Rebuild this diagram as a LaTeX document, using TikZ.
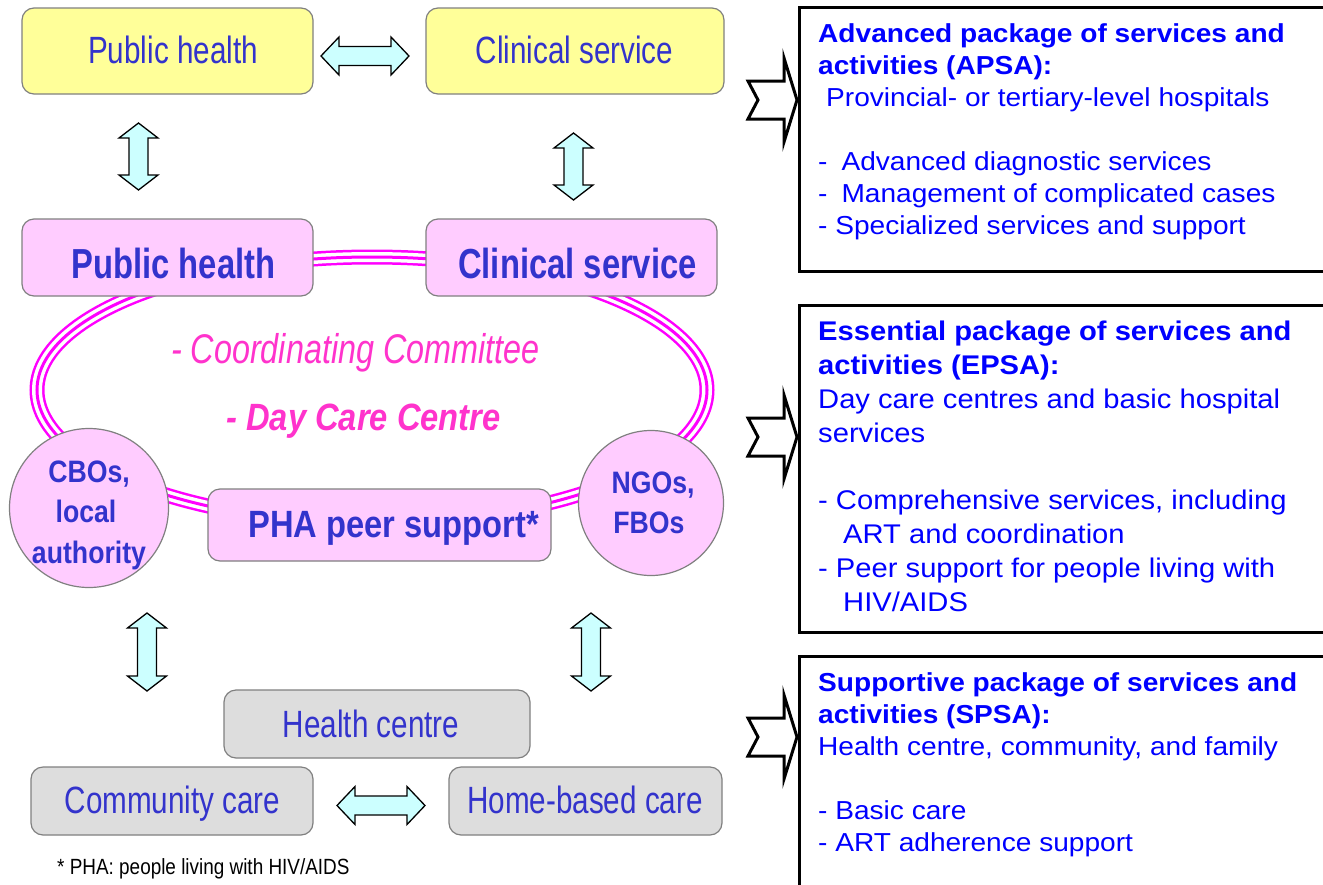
\documentclass[tikz,border=0pt]{standalone}
\usepackage{fontspec}
\setmainfont{Liberation Sans}
\newfontfamily\lnarrow[FakeStretch=0.78]{Liberation Sans}
\newfontfamily\lmid[FakeStretch=0.86]{Liberation Sans}
\newfontfamily\rfont[FakeStretch=1.08]{Liberation Sans}
\definecolor{txtblue}{HTML}{3333CC}
\definecolor{rblue}{HTML}{0000FF}
\definecolor{ylw}{HTML}{FFFF99}
\definecolor{pnk}{HTML}{FFCCFF}
\definecolor{gry}{HTML}{DDDDDD}
\definecolor{cyn}{HTML}{CCFFFF}
\definecolor{mag}{HTML}{FF00FF}
\definecolor{itmag}{HTML}{FF33CC}
\definecolor{bord}{HTML}{808080}
\tikzset{
  lbox/.style={draw=bord, line width=1.2pt, rounded corners=12pt, inner sep=0pt},
  ybox/.style={lbox, fill=ylw},
  pbox/.style={lbox, fill=pnk},
  gbox/.style={lbox, fill=gry},
  pcirc/.style={draw=bord, line width=1.2pt, fill=pnk, circle, inner sep=0pt},
  ring/.style={draw=mag, line width=15pt,
     postaction={draw=white, line width=10pt},
     postaction={draw=mag, line width=3pt}},
  regtxt/.style={anchor=base, inner sep=0pt, text=txtblue, font=\lnarrow\fontsize{38}{40}\selectfont},
  boldtxt/.style={anchor=base, inner sep=0pt, text=txtblue, font=\lnarrow\bfseries\fontsize{42}{44}\selectfont},
  circtxt/.style={anchor=base, inner sep=0pt, text=txtblue, font=\lmid\bfseries\fontsize{31}{33}\selectfont},
  rtxt/.style={anchor=base west, inner sep=0pt, text=rblue, font=\rfont\fontsize{26}{30}\selectfont},
  rtxtb/.style={anchor=base west, inner sep=0pt, text=rblue, font=\rfont\fontsize{27}{30}\selectfont},
  rbox/.style={draw=black, line width=2.5pt, inner sep=0pt, anchor=north west},
  cyarrow/.style={fill=cyn, draw=black, line width=1.3pt, line join=miter},
  pics/vdar/.style={code={
    \draw[cyarrow] (0,-#1) -- (19.5,{-#1+15}) -- (9.5,{-#1+15}) -- (9.5,{#1-15}) -- (19.5,{#1-15})
      -- (0,#1) -- (-19.5,{#1-15}) -- (-9.5,{#1-15}) -- (-9.5,{-#1+15}) -- (-19.5,{-#1+15}) -- cycle;}},
  pics/hdar/.style={code={
    \draw[cyarrow] (-44,0) -- (-26,-19) -- (-26,-9.5) -- (26,-9.5) -- (26,-19) -- (44,0)
      -- (26,19) -- (26,9.5) -- (-26,9.5) -- (-26,19) -- cycle;}},
  pics/chev/.style={code={
    \draw[line width=3pt, fill=white, line join=miter, miter limit=30]
      (-52,-19) -- (-16,-19) -- (-16,-42) -- (-3,0) -- (-16,42) -- (-16,19) -- (-52,19) -- (-42,0) -- cycle;}}
}
\begin{document}
\begin{tikzpicture}[x=1pt,y=-1pt]
\useasboundingbox (0,0) rectangle (1323,884);
\clip (0,0) rectangle (1323,884);
\fill[white] (0,0) rectangle (1323,884);

% ring
\path[ring] (372,390) ellipse [x radius=335pt, y radius=133pt];

% top yellow boxes
\node[ybox, minimum width=291pt, minimum height=86pt] (ph1) at (167.5,51) {};
\node[ybox, minimum width=298pt, minimum height=86pt] (cs1) at (575,51) {};
\node[regtxt] (ph1t) at (173,63) {Public health};
\node[regtxt] (cs1t) at (574.5,63) {Clinical service};

% pink boxes
\node[pbox, minimum width=291pt, minimum height=77pt] (ph2) at (167.5,257.5) {};
\node[pbox, minimum width=291pt, minimum height=77pt] (cs2) at (571.5,257.5) {};
\node[boldtxt] (ph2t) at (173.5,278) {Public health};
\node[boldtxt] (cs2t) at (577.5,278) {Clinical service};

% committee texts
\node[anchor=base, inner sep=0pt, text=itmag, font=\lnarrow\itshape\fontsize{41.5}{43}\selectfont] (coord) at (355.5,363) {- Coordinating Committee};
\node[anchor=base, inner sep=0pt, text=itmag, font=\lmid\bfseries\itshape\fontsize{38}{40}\selectfont] (dcc) at (363.5,430) {- Day Care Centre};

% circles and PHA box
\node[pcirc, minimum size=159pt] (cbo) at (89,508) {};
\node[pcirc, minimum size=145pt] (ngo) at (651,503) {};
\node[pbox, minimum width=343pt, minimum height=72pt] (pha) at (379.5,525) {};
\node[anchor=base, inner sep=0pt, text=txtblue, font=\lmid\bfseries\fontsize{38}{40}\selectfont] (phat) at (393.5,537) {PHA peer support*};
\node[circtxt] (cbo1) at (89,482) {CBOs,};
\node[circtxt] (cbo2) at (86,522) {local};
\node[circtxt] (cbo3) at (89,563) {authority};
\node[circtxt] (ngo1) at (653,493) {NGOs,};
\node[circtxt] (ngo2) at (649,533) {FBOs};

% bottom grey boxes
\node[gbox, minimum width=306pt, minimum height=68pt] (hc) at (377,724) {};
\node[gbox, minimum width=282pt, minimum height=68pt] (cc) at (172,801) {};
\node[gbox, minimum width=273pt, minimum height=68pt] (hb) at (585.5,801) {};
\node[regtxt] (hct) at (371,737) {Health centre};
\node[regtxt] (cct) at (172.5,813) {Community care};
\node[regtxt] (hbt) at (585,813) {Home-based care};

% footnote
\node[anchor=base west, inner sep=0pt, text=black, font=\lmid\fontsize{22}{24}\selectfont] (foot) at (57,874) {* PHA: people living with HIV/AIDS};

% cyan double arrows
\pic at (365,56) {hdar};
\pic at (138.5,156.5) {vdar=33.5};
\pic at (573.5,166.5) {vdar=33.5};
\pic at (147,652) {vdar=39};
\pic at (591,652) {vdar=39};
\pic at (381,805.5) {hdar};

% right boxes
\node[rbox, minimum width=600pt, minimum height=264pt] (apsa) at (798,6) {};
\node[rbox, minimum width=600pt, minimum height=327pt] (epsa) at (798,304) {};
\node[rbox, minimum width=600pt, minimum height=300pt] (spsa) at (798,655) {};

% chevrons
\pic at (800,100) {chev};
\pic at (800,437) {chev};
\pic at (800,737) {chev};

% APSA text
\node[rtxt, font=\rfont\bfseries\fontsize{26}{30}\selectfont] (a1) at (818,42) {Advanced package of services and};
\node[rtxt, font=\rfont\bfseries\fontsize{26}{30}\selectfont] (a2) at (818,74) {activities (APSA):};
\node[rtxt] (a3) at (826,106) {Provincial- or tertiary-level hospitals};
\node[rtxt] (a4) at (818,170) {-\hspace{14pt}Advanced diagnostic services};
\node[rtxt] (a5) at (818,202) {-\hspace{14pt}Management of complicated cases};
\node[rtxt] (a6) at (818,234) {- Specialized services and support};

% EPSA text
\node[rtxtb, font=\rfont\bfseries\fontsize{27}{30}\selectfont] (e1) at (818,340) {Essential package of services and};
\node[rtxtb, font=\rfont\bfseries\fontsize{27}{30}\selectfont] (e2) at (818,374) {activities (EPSA):};
\node[rtxtb] (e3) at (818,408) {Day care centres and basic hospital};
\node[rtxtb] (e4) at (818,442) {services};
\node[rtxtb] (e5) at (818,509) {- Comprehensive services, including};
\node[rtxtb] (e6) at (843,543) {ART and coordination};
\node[rtxtb] (e7) at (818,577) {- Peer support for people living with};
\node[rtxtb] (e8) at (843,611) {HIV/AIDS};

% SPSA text
\node[rtxt, font=\rfont\bfseries\fontsize{26}{30}\selectfont] (s1) at (818,691) {Supportive package of services and};
\node[rtxt, font=\rfont\bfseries\fontsize{26}{30}\selectfont] (s2) at (818,723) {activities (SPSA):};
\node[rtxt] (s3) at (818,755) {Health centre, community, and family};
\node[rtxt] (s4) at (818,819) {- Basic care};
\node[rtxt] (s5) at (818,851) {- ART adherence support};
\end{tikzpicture}
\end{document}
